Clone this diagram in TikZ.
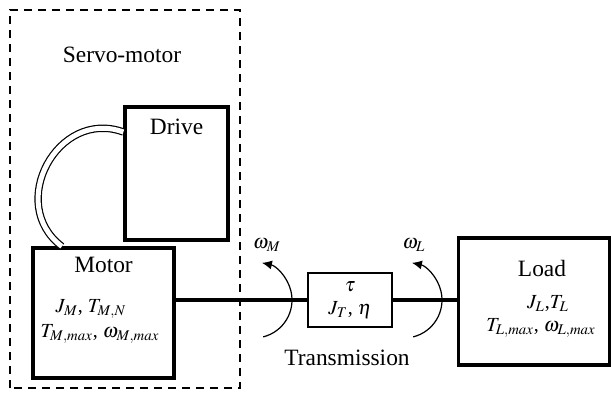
\documentclass[tikz,border=0pt]{standalone}
\usepackage{mathptmx}
\usepackage[no-math]{fontspec}
\setmainfont{Liberation Serif}
\usetikzlibrary{arrows.meta}

\begin{document}
\begin{tikzpicture}[x=0.5pt,y=0.5pt,
	box/.style={draw,line width=1.6pt,inner sep=0pt},
	lbl/.style={font=\fontsize{11.7}{14}\selectfont},
	par/.style={font=\fontsize{10}{12}\selectfont,inner sep=1pt},
	shaft/.style={line width=2pt},
	turn/.style={line width=0.6pt,-{Latex[length=5pt,width=4.5pt]}}]
	\useasboundingbox (0,0) rectangle (611,393);
	% servo-motor frame
	\draw[line width=1pt,dash pattern=on 4pt off 3pt] (10,5) rectangle (240,383);
	\node[lbl] (srv) at (122,338) {Servo-motor};
	% boxes
	\node[box,minimum width=51.5pt,minimum height=66.5pt] (drv) at (176.5,219.5) {};
	\node[box,minimum width=70.5pt,minimum height=65pt] (mot) at (103.5,80) {};
	\node[box,line width=1.3pt,minimum width=42pt,minimum height=27pt] (trm) at (350,93) {};
	\node[box,minimum width=75.5pt,minimum height=63.5pt] (ld) at (534,91.5) {};
	% texts
	\node[lbl] (drvt) at (176.5,266) {Drive};
	\node[lbl] (mott) at (103.5,128) {Motor};
	\node[par] (motp1) at (91,84) {$J_M$, $T_{M,N}$};
	\node[par] (motp2) at (100,59) {$T_{M,max}$, $\omega_{M,max}$};
	\node[par] (trmp1) at (350,106) {$\tau$};
	\node[par] (trmp2) at (350,83) {$J_T$, $\eta$};
	\node[lbl] (trmt) at (347,35) {Transmission};
	\node[lbl] (ldt) at (542,125) {Load};
	\node[par] (ldp1) at (548,89) {$J_L$,$T_L$};
	\node[par] (ldp2) at (541,65) {$T_{L,max}$, $\omega_{L,max}$};
	% cable and shaft
	\draw[line width=0.6pt,double,double distance=2.5pt] (mot.122) to[out=143,in=160,looseness=1.38] (drv.142);
	\draw[shaft] (mot.east |- trm.west) -- (trm.west);
	\draw[shaft] (trm.east) -- (ld.west |- trm.east);
	% speeds
	\coordinate (wm) at (254,93);
	\coordinate (wl) at (404,93);
	\draw[turn] (wm) ++(-76:38) arc[start angle=-76,end angle=78,radius=38];
	\draw[turn] (wl) ++(-76:38) arc[start angle=-76,end angle=78,radius=38];
	\node[par] (wmt) at (267,148) {$\omega_M$};
	\node[par] (wlt) at (414,148) {$\omega_L$};
\end{tikzpicture}
\end{document}
